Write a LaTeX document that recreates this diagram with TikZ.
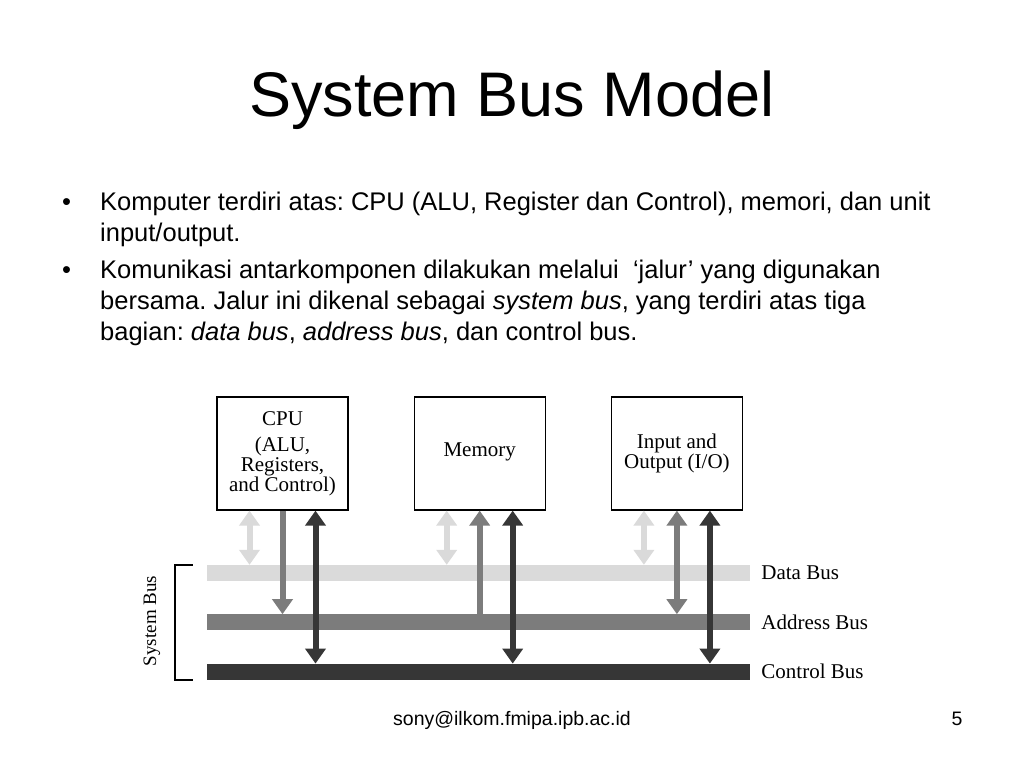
\documentclass[tikz,border=0pt]{standalone}
\usepackage{fontspec}
\setmainfont{Liberation Sans}
\newfontfamily\diagfont{Liberation Serif}
\usetikzlibrary{arrows.meta, positioning}
\frenchspacing
\definecolor{DataGray}{HTML}{DADADA}
\definecolor{AddrGray}{HTML}{7C7C7C}
\definecolor{CtrlGray}{HTML}{363636}
\tikzset{
  % Text styles
  titletext/.style={font=\fontsize{63}{63}\selectfont},
  bodytext/.style={font=\fontsize{25.5}{31}\selectfont, anchor=base west, inner sep=0pt},
  foottext/.style={font=\fontsize{19.5}{20}\selectfont, anchor=base},
  % Box styles
  unitbox/.style={rectangle, draw=black, line width=1.2pt, minimum width=131pt, minimum height=113pt, inner sep=0pt, font=\diagfont\fontsize{21}{20}\selectfont, align=center},
  busbar/.style={rectangle, inner sep=0pt, minimum width=543pt, minimum height=16pt},
  buslabel/.style={font=\diagfont\fontsize{21}{21}\selectfont, anchor=west, inner sep=0pt},
  % Arrow styles
  twoway/.style={line width=6pt, {Triangle[width=20pt, length=15pt]}-{Triangle[width=20pt, length=15pt]}},
  oneway/.style={line width=6pt, -{Triangle[width=20pt, length=15pt]}}
}
\begin{document}
\begin{tikzpicture}[x=1pt, y=-1pt]
  \useasboundingbox[fill=white] (0,0) rectangle (1024,768);

  % slide text
  \node[titletext] (title) at (512,100) {System Bus Model};
  \node[bodytext] (dot1) at (62,210) {•};
  \node[bodytext] (l1) at (100,210) {Komputer terdiri atas: CPU (ALU, Register dan Control), memori, dan unit};
  \node[bodytext] (l2) at (100,241) {input/output.};
  \node[bodytext] (dot2) at (62,278) {•};
  \node[bodytext] (l3) at (100,278) {Komunikasi antarkomponen dilakukan melalui\ \ ‘jalur’ yang digunakan};
  \node[bodytext] (l4) at (100,309) {bersama. Jalur ini dikenal sebagai \textit{system bus}, yang terdiri atas tiga};
  \node[bodytext] (l5) at (100,340) {bagian: \textit{data bus}, \textit{address bus}, dan control bus.};

  % units
  \node[unitbox] (cpu) at (282.5,453.5) {CPU\\[6pt](ALU,\\Registers,\\and Control)};
  \node[unitbox, right=65pt of cpu] (mem) {Memory\\[-12pt]};
  \node[unitbox, right=65pt of mem] (io) {Input and\\Output (I/O)};

  % buses
  \node[busbar, fill=DataGray] (databus) at (478.5,573) {};
  \node[busbar, fill=AddrGray, below=33pt of databus] (addrbus) {};
  \node[busbar, fill=CtrlGray, below=33pt of addrbus] (ctrlbus) {};
  \node[buslabel, right=11pt of databus] (datalbl) {Data Bus};
  \node[buslabel, right=11pt of addrbus] (addrlbl) {Address Bus};
  \node[buslabel, right=11pt of ctrlbus] (ctrllbl) {Control Bus};

  % system bus bracket
  \coordinate (brtop) at ([xshift=-14pt]databus.north west);
  \coordinate (brbot) at ([xshift=-14pt]ctrlbus.south west);
  \draw[line width=2pt] (brtop) -- ++(-18,0) |- (brbot);
  \node[rotate=90, font=\diagfont\fontsize{19}{19}\selectfont] (sysbus) at (152,621) {System Bus};

  % connections
  \foreach \u in {cpu,mem,io} {
    \coordinate (\u-d) at ([xshift=-33pt]\u.south);
    \coordinate (\u-a) at (\u.south);
    \coordinate (\u-c) at ([xshift=33pt]\u.south);
    \draw[twoway, DataGray] (\u-d) -- (\u-d |- databus.north);
    \draw[twoway, CtrlGray] (\u-c) -- (\u-c |- ctrlbus.north);
  }
  \draw[oneway, AddrGray] (cpu-a) -- (cpu-a |- addrbus.north);
  \draw[oneway, AddrGray] (mem-a |- addrbus.north) -- (mem-a);
  \draw[twoway, AddrGray] (io-a) -- (io-a |- addrbus.north);

  % footer
  \node[foottext] (mail) at (512,725) {sony@ilkom.fmipa.ipb.ac.id};
  \node[foottext] (page) at (957,725) {5};
\end{tikzpicture}
\end{document}
